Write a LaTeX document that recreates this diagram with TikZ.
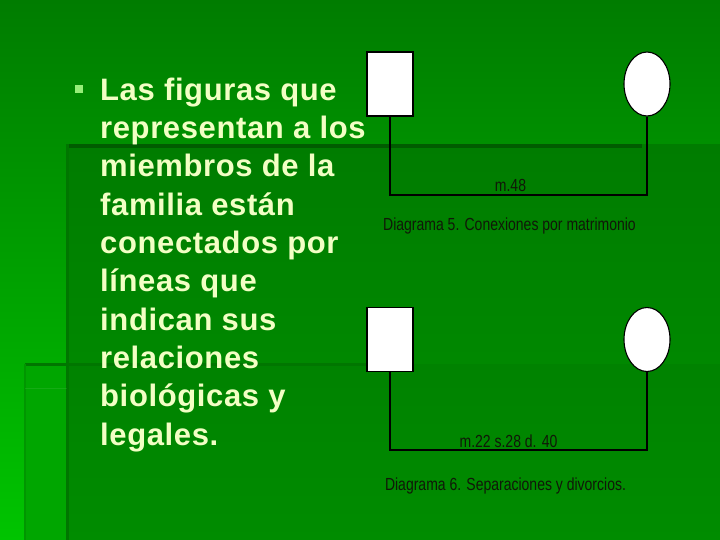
\documentclass[tikz,border=0pt]{standalone}
\usepackage{fontspec}
\usetikzlibrary{shapes.geometric}
\newfontfamily\bodyfont[LetterSpace=2]{Liberation Sans Bold}
\newfontfamily\narrowfont[FakeStretch=0.8]{Liberation Sans}
\definecolor{bgtop}{RGB}{0,124,0}
\definecolor{bgbot}{RGB}{0,196,0}
\definecolor{panA}{RGB}{0,124,0}
\definecolor{panB}{RGB}{0,146,0}
\definecolor{stripc}{RGB}{0,166,0}
\definecolor{edgedark}{RGB}{0,92,0}
\definecolor{edgemid}{RGB}{0,118,0}
\definecolor{edgelite}{RGB}{0,150,0}
\definecolor{textc}{RGB}{242,255,196}
\definecolor{bulletc}{RGB}{150,238,120}
\definecolor{labelc}{RGB}{16,24,8}
\tikzset{
  malebox/.style={draw=black, line width=1.1pt, fill=white, rectangle, inner sep=0pt, minimum width=46pt, minimum height=64pt},
  femalebox/.style={draw=black, line width=1.1pt, fill=white, ellipse, inner sep=0pt, minimum width=46pt, minimum height=64pt},
  conn/.style={draw=black, line width=1.2pt},
  lbl/.style={font=\narrowfont\fontsize{17.5}{20}\selectfont, text=labelc, inner sep=0pt, anchor=base},
}
\begin{document}
\begin{tikzpicture}[x=1pt, y=-1pt]
\useasboundingbox (0,0) rectangle (720,540);
% background
\shade[top color=bgtop, bottom color=bgbot] (0,0) rectangle (720,540);
\fill[stripc] (25,363) rectangle (67,540);
\shade[top color=panA, bottom color=panB] (67,145) rectangle (720,540);
\fill[black, opacity=0.04] (67,364) rectangle (720,540);
\draw[edgedark, line width=3.5pt] (67,146) -- (642,146);
\draw[edgemid, line width=3pt] (67,144.5) -- (67,540);
\draw[edgemid, line width=3pt] (25,364.5) -- (367,364.5);
\draw[edgelite, line width=2pt] (25,363.5) -- (25,540);
\draw[white, opacity=0.08, line width=1pt] (25,388) -- (67,388);
% bullet text
\fill[bulletc] (75,85) rectangle (83,93);
\node[anchor=north west, inner sep=0pt, align=left, text=textc,
      font=\bodyfont\fontsize{31}{38.33}\selectfont] (body) at (100,77.5)
  {Las figuras que\\representan a los\\miembros de la\\familia están\\conectados por\\líneas que\\indican sus\\relaciones\\biológicas y\\legales.};
% diagram 5
\node[malebox] (s1) at (390,84) {};
\node[femalebox] (e1) at (647,84) {};
\coordinate (m1) at (510,195);
\draw[conn] (s1.south) |- (m1) -| (e1.south);
\node[lbl] (t1) at (510.5,192) {m.48};
\node[lbl] (c1) at (509.5,230.5) {Diagrama 5. Conexiones por matrimonio};
% diagram 6
\node[malebox] (s2) at (390,339.5) {};
\node[femalebox] (e2) at (647,339.5) {};
\coordinate (m2) at (510,450);
\draw[conn] (s2.south) |- (m2) -| (e2.south);
\node[lbl] (t2) at (508.5,447) {m.22 s.28 d. 40};
\node[lbl] (c2) at (505.5,490.5) {Diagrama 6. Separaciones y divorcios.};
\end{tikzpicture}
\end{document}
